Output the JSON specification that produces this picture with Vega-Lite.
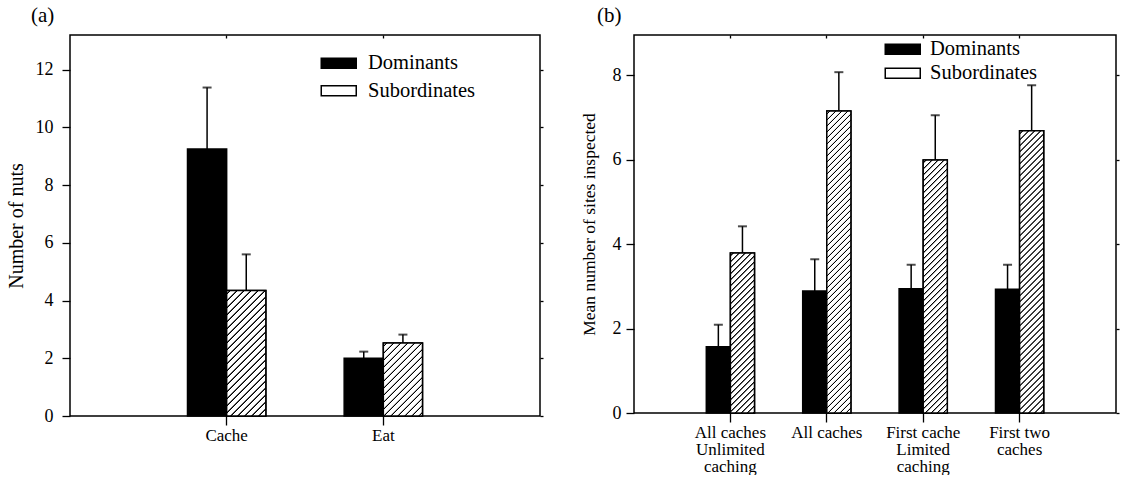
{
  "$schema": "https://vega.github.io/schema/vega-lite/v6.json",
  "padding": {"left": 5, "top": 4, "right": 5, "bottom": 0},
  "spacing": 34,
  "background": "white",
  "params": [
    {"name": "hatch", "value": [
      {"offset":0.0035,"color":"#fff"},{"offset":0.0045,"color":"#000"},{"offset":0.0057,"color":"#000"},{"offset":0.0067,"color":"#fff"},
      {"offset":0.0135,"color":"#fff"},{"offset":0.0145,"color":"#000"},{"offset":0.0157,"color":"#000"},{"offset":0.0167,"color":"#fff"},
      {"offset":0.0235,"color":"#fff"},{"offset":0.0245,"color":"#000"},{"offset":0.0257,"color":"#000"},{"offset":0.0267,"color":"#fff"},
      {"offset":0.0335,"color":"#fff"},{"offset":0.0345,"color":"#000"},{"offset":0.0357,"color":"#000"},{"offset":0.0367,"color":"#fff"},
      {"offset":0.0435,"color":"#fff"},{"offset":0.0445,"color":"#000"},{"offset":0.0457,"color":"#000"},{"offset":0.0467,"color":"#fff"},
      {"offset":0.0535,"color":"#fff"},{"offset":0.0545,"color":"#000"},{"offset":0.0557,"color":"#000"},{"offset":0.0567,"color":"#fff"},
      {"offset":0.0635,"color":"#fff"},{"offset":0.0645,"color":"#000"},{"offset":0.0657,"color":"#000"},{"offset":0.0667,"color":"#fff"},
      {"offset":0.0735,"color":"#fff"},{"offset":0.0745,"color":"#000"},{"offset":0.0757,"color":"#000"},{"offset":0.0767,"color":"#fff"},
      {"offset":0.0835,"color":"#fff"},{"offset":0.0845,"color":"#000"},{"offset":0.0857,"color":"#000"},{"offset":0.0867,"color":"#fff"},
      {"offset":0.0935,"color":"#fff"},{"offset":0.0945,"color":"#000"},{"offset":0.0957,"color":"#000"},{"offset":0.0967,"color":"#fff"},
      {"offset":0.1035,"color":"#fff"},{"offset":0.1045,"color":"#000"},{"offset":0.1057,"color":"#000"},{"offset":0.1067,"color":"#fff"},
      {"offset":0.1135,"color":"#fff"},{"offset":0.1145,"color":"#000"},{"offset":0.1157,"color":"#000"},{"offset":0.1167,"color":"#fff"},
      {"offset":0.1235,"color":"#fff"},{"offset":0.1245,"color":"#000"},{"offset":0.1257,"color":"#000"},{"offset":0.1267,"color":"#fff"},
      {"offset":0.1335,"color":"#fff"},{"offset":0.1345,"color":"#000"},{"offset":0.1357,"color":"#000"},{"offset":0.1367,"color":"#fff"},
      {"offset":0.1435,"color":"#fff"},{"offset":0.1445,"color":"#000"},{"offset":0.1457,"color":"#000"},{"offset":0.1467,"color":"#fff"},
      {"offset":0.1535,"color":"#fff"},{"offset":0.1545,"color":"#000"},{"offset":0.1557,"color":"#000"},{"offset":0.1567,"color":"#fff"},
      {"offset":0.1635,"color":"#fff"},{"offset":0.1645,"color":"#000"},{"offset":0.1657,"color":"#000"},{"offset":0.1667,"color":"#fff"},
      {"offset":0.1735,"color":"#fff"},{"offset":0.1745,"color":"#000"},{"offset":0.1757,"color":"#000"},{"offset":0.1767,"color":"#fff"},
      {"offset":0.1835,"color":"#fff"},{"offset":0.1845,"color":"#000"},{"offset":0.1857,"color":"#000"},{"offset":0.1867,"color":"#fff"},
      {"offset":0.1935,"color":"#fff"},{"offset":0.1945,"color":"#000"},{"offset":0.1957,"color":"#000"},{"offset":0.1967,"color":"#fff"},
      {"offset":0.2035,"color":"#fff"},{"offset":0.2045,"color":"#000"},{"offset":0.2057,"color":"#000"},{"offset":0.2067,"color":"#fff"},
      {"offset":0.2135,"color":"#fff"},{"offset":0.2145,"color":"#000"},{"offset":0.2157,"color":"#000"},{"offset":0.2167,"color":"#fff"},
      {"offset":0.2235,"color":"#fff"},{"offset":0.2245,"color":"#000"},{"offset":0.2257,"color":"#000"},{"offset":0.2267,"color":"#fff"},
      {"offset":0.2335,"color":"#fff"},{"offset":0.2345,"color":"#000"},{"offset":0.2357,"color":"#000"},{"offset":0.2367,"color":"#fff"},
      {"offset":0.2435,"color":"#fff"},{"offset":0.2445,"color":"#000"},{"offset":0.2457,"color":"#000"},{"offset":0.2467,"color":"#fff"},
      {"offset":0.2535,"color":"#fff"},{"offset":0.2545,"color":"#000"},{"offset":0.2557,"color":"#000"},{"offset":0.2567,"color":"#fff"},
      {"offset":0.2635,"color":"#fff"},{"offset":0.2645,"color":"#000"},{"offset":0.2657,"color":"#000"},{"offset":0.2667,"color":"#fff"},
      {"offset":0.2735,"color":"#fff"},{"offset":0.2745,"color":"#000"},{"offset":0.2757,"color":"#000"},{"offset":0.2767,"color":"#fff"},
      {"offset":0.2835,"color":"#fff"},{"offset":0.2845,"color":"#000"},{"offset":0.2857,"color":"#000"},{"offset":0.2867,"color":"#fff"},
      {"offset":0.2935,"color":"#fff"},{"offset":0.2945,"color":"#000"},{"offset":0.2957,"color":"#000"},{"offset":0.2967,"color":"#fff"},
      {"offset":0.3035,"color":"#fff"},{"offset":0.3045,"color":"#000"},{"offset":0.3057,"color":"#000"},{"offset":0.3067,"color":"#fff"},
      {"offset":0.3135,"color":"#fff"},{"offset":0.3145,"color":"#000"},{"offset":0.3157,"color":"#000"},{"offset":0.3167,"color":"#fff"},
      {"offset":0.3235,"color":"#fff"},{"offset":0.3245,"color":"#000"},{"offset":0.3257,"color":"#000"},{"offset":0.3267,"color":"#fff"},
      {"offset":0.3335,"color":"#fff"},{"offset":0.3345,"color":"#000"},{"offset":0.3357,"color":"#000"},{"offset":0.3367,"color":"#fff"},
      {"offset":0.3435,"color":"#fff"},{"offset":0.3445,"color":"#000"},{"offset":0.3457,"color":"#000"},{"offset":0.3467,"color":"#fff"},
      {"offset":0.3535,"color":"#fff"},{"offset":0.3545,"color":"#000"},{"offset":0.3557,"color":"#000"},{"offset":0.3567,"color":"#fff"},
      {"offset":0.3635,"color":"#fff"},{"offset":0.3645,"color":"#000"},{"offset":0.3657,"color":"#000"},{"offset":0.3667,"color":"#fff"},
      {"offset":0.3735,"color":"#fff"},{"offset":0.3745,"color":"#000"},{"offset":0.3757,"color":"#000"},{"offset":0.3767,"color":"#fff"},
      {"offset":0.3835,"color":"#fff"},{"offset":0.3845,"color":"#000"},{"offset":0.3857,"color":"#000"},{"offset":0.3867,"color":"#fff"},
      {"offset":0.3935,"color":"#fff"},{"offset":0.3945,"color":"#000"},{"offset":0.3957,"color":"#000"},{"offset":0.3967,"color":"#fff"},
      {"offset":0.4035,"color":"#fff"},{"offset":0.4045,"color":"#000"},{"offset":0.4057,"color":"#000"},{"offset":0.4067,"color":"#fff"},
      {"offset":0.4135,"color":"#fff"},{"offset":0.4145,"color":"#000"},{"offset":0.4157,"color":"#000"},{"offset":0.4167,"color":"#fff"},
      {"offset":0.4235,"color":"#fff"},{"offset":0.4245,"color":"#000"},{"offset":0.4257,"color":"#000"},{"offset":0.4267,"color":"#fff"},
      {"offset":0.4335,"color":"#fff"},{"offset":0.4345,"color":"#000"},{"offset":0.4357,"color":"#000"},{"offset":0.4367,"color":"#fff"},
      {"offset":0.4435,"color":"#fff"},{"offset":0.4445,"color":"#000"},{"offset":0.4457,"color":"#000"},{"offset":0.4467,"color":"#fff"},
      {"offset":0.4535,"color":"#fff"},{"offset":0.4545,"color":"#000"},{"offset":0.4557,"color":"#000"},{"offset":0.4567,"color":"#fff"},
      {"offset":0.4635,"color":"#fff"},{"offset":0.4645,"color":"#000"},{"offset":0.4657,"color":"#000"},{"offset":0.4667,"color":"#fff"},
      {"offset":0.4735,"color":"#fff"},{"offset":0.4745,"color":"#000"},{"offset":0.4757,"color":"#000"},{"offset":0.4767,"color":"#fff"},
      {"offset":0.4835,"color":"#fff"},{"offset":0.4845,"color":"#000"},{"offset":0.4857,"color":"#000"},{"offset":0.4867,"color":"#fff"},
      {"offset":0.4935,"color":"#fff"},{"offset":0.4945,"color":"#000"},{"offset":0.4957,"color":"#000"},{"offset":0.4967,"color":"#fff"},
      {"offset":0.5035,"color":"#fff"},{"offset":0.5045,"color":"#000"},{"offset":0.5057,"color":"#000"},{"offset":0.5067,"color":"#fff"},
      {"offset":0.5135,"color":"#fff"},{"offset":0.5145,"color":"#000"},{"offset":0.5157,"color":"#000"},{"offset":0.5167,"color":"#fff"},
      {"offset":0.5235,"color":"#fff"},{"offset":0.5245,"color":"#000"},{"offset":0.5257,"color":"#000"},{"offset":0.5267,"color":"#fff"},
      {"offset":0.5335,"color":"#fff"},{"offset":0.5345,"color":"#000"},{"offset":0.5357,"color":"#000"},{"offset":0.5367,"color":"#fff"},
      {"offset":0.5435,"color":"#fff"},{"offset":0.5445,"color":"#000"},{"offset":0.5457,"color":"#000"},{"offset":0.5467,"color":"#fff"}
    ]}
  ],
  "datasets": {
    "nuts": [
      {"category": "Cache", "series": "Dominants", "mean": 9.25, "upper": 11.38},
      {"category": "Cache", "series": "Subordinates", "mean": 4.35, "upper": 5.6},
      {"category": "Eat", "series": "Dominants", "mean": 2.0, "upper": 2.23},
      {"category": "Eat", "series": "Subordinates", "mean": 2.53, "upper": 2.82}
    ],
    "sites": [
      {"category": "All caches\nUnlimited\ncaching", "series": "Dominants", "mean": 1.57, "upper": 2.09},
      {"category": "All caches\nUnlimited\ncaching", "series": "Subordinates", "mean": 3.79, "upper": 4.42},
      {"category": "All caches", "series": "Dominants", "mean": 2.89, "upper": 3.64},
      {"category": "All caches", "series": "Subordinates", "mean": 7.15, "upper": 8.07},
      {"category": "First cache\nLimited\ncaching", "series": "Dominants", "mean": 2.94, "upper": 3.51},
      {"category": "First cache\nLimited\ncaching", "series": "Subordinates", "mean": 5.99, "upper": 7.05},
      {"category": "First two\ncaches", "series": "Dominants", "mean": 2.93, "upper": 3.51},
      {"category": "First two\ncaches", "series": "Subordinates", "mean": 6.68, "upper": 7.76}
    ]
  },
  "resolve": {"scale": {"fill": "independent", "xOffset": "independent"}, "legend": {"fill": "independent"}},
  "hconcat": [
    {
      "width": 470,
      "height": 381,
      "title": {"text": "(a)", "dx": -39, "offset": -9, "baseline": "alphabetic"},
      "data": {"name": "nuts"},
      "resolve": {"axis": {"x": "independent", "y": "independent"}},
      "layer": [
        {
          "mark": {"type": "bar", "stroke": "black", "strokeWidth": 1.5},
          "encoding": {
            "x": {"field": "category", "type": "nominal", "scale": {"domain": ["Cache", "Eat"], "paddingInner": 0.5, "paddingOuter": 0.75},
                  "axis": {"title": null, "orient": "bottom", "labelAngle": 0, "tickSize": 9, "labelPadding": 2, "bandPosition": 0.5}},
            "xOffset": {"field": "series", "type": "nominal", "scale": {"domain": ["Dominants", "Subordinates"], "paddingInner": 0, "paddingOuter": 0}},
            "y": {"field": "mean", "type": "quantitative", "scale": {"domain": [0, 13.2], "nice": false},
                  "axis": {"title": "Number of nuts", "orient": "left", "values": [0, 2, 4, 6, 8, 10, 12], "tickSize": 8, "labelPadding": 9, "labelFontSize": 18, "titleFontSize": 20, "titlePadding": 9}},
            "fill": {"field": "series", "type": "nominal", "scale": {"domain": ["Dominants", "Subordinates"], "range": ["black", "white"]},
                     "legend": {"title": null, "orient": "none", "legendX": 258.5, "legendY": 18, "symbolType": "M-3.5,-1H3.5V1H-3.5Z", "symbolSize": 100, "labelFont": "Liberation Serif", "labelFontSize": 20.5, "labelOffset": 19, "rowPadding": 6.5, "padding": 0, "labelLimit": 300,
                                "encode": {"symbols": {"update": {"fill": {"signal": "datum.value === 'Subordinates' ? {gradient: 'linear', x1: 0, y1: 0, x2: 21.13, y2: 6.04, stops: hatch} : 'black'"}, "stroke": {"value": "black"}, "strokeWidth": {"value": 1}, "opacity": {"value": 1}}}}}}
          }
        },
        {
          "transform": [{"filter": {"and": [{"field": "series", "equal": "Subordinates"}, {"field": "category", "equal": "Cache"}]}}],
          "mark": {"type": "bar", "stroke": "black", "strokeWidth": 1.5, "fill": {"expr": "{gradient: 'linear', x1: 0, y1: 0, x2: 1.5849, y2: 5.0808, stops: hatch}"}},
          "encoding": {
            "x": {"field": "category", "type": "nominal", "scale": {"domain": ["Cache", "Eat"]}, "axis": null},
            "xOffset": {"field": "series", "type": "nominal", "scale": {"domain": ["Dominants", "Subordinates"]}},
            "y": {"field": "mean", "type": "quantitative", "axis": null}
          }
        },
        {
          "transform": [{"filter": {"and": [{"field": "series", "equal": "Subordinates"}, {"field": "category", "equal": "Eat"}]}}],
          "mark": {"type": "bar", "stroke": "black", "strokeWidth": 1.5, "fill": {"expr": "{gradient: 'linear', x1: 0, y1: 0, x2: 3.9927, y2: 7.4443, stops: hatch}"}},
          "encoding": {
            "x": {"field": "category", "type": "nominal", "scale": {"domain": ["Cache", "Eat"]}, "axis": null},
            "xOffset": {"field": "series", "type": "nominal", "scale": {"domain": ["Dominants", "Subordinates"]}},
            "y": {"field": "mean", "type": "quantitative", "axis": null}
          }
        },
        {
          "mark": {"type": "rule", "color": "black", "strokeWidth": 1.5},
          "encoding": {
            "x": {"field": "category", "type": "nominal", "scale": {"domain": ["Cache", "Eat"]}, "axis": null},
            "xOffset": {"field": "series", "type": "nominal", "scale": {"domain": ["Dominants", "Subordinates"]}},
            "y": {"field": "upper", "type": "quantitative", "axis": null},
            "y2": {"field": "mean"}
          }
        },
        {
          "mark": {"type": "tick", "color": "black", "thickness": 2, "size": 9},
          "encoding": {
            "x": {"field": "category", "type": "nominal", "scale": {"domain": ["Cache", "Eat"]},
                  "axis": {"orient": "top", "title": null, "labels": false, "tickSize": -3, "bandPosition": 0.5, "minExtent": 0, "maxExtent": 0}},
            "xOffset": {"field": "series", "type": "nominal", "scale": {"domain": ["Dominants", "Subordinates"]}},
            "y": {"field": "upper", "type": "quantitative",
                  "axis": {"orient": "right", "title": null, "labels": false, "tickSize": 3, "values": [0, 2, 4, 6, 8, 10, 12], "minExtent": 0, "maxExtent": 0}}
          }
        }
      ]
    },
    {
      "width": 482,
      "height": 378,
      "title": {"text": "(b)", "dx": -37, "offset": -9, "baseline": "alphabetic"},
      "data": {"name": "sites"},
      "resolve": {"axis": {"x": "independent", "y": "independent"}},
      "layer": [
        {
          "mark": {"type": "bar", "stroke": "black", "strokeWidth": 1.5},
          "encoding": {
            "x": {"field": "category", "type": "nominal", "scale": {"domain": ["All caches\nUnlimited\ncaching", "All caches", "First cache\nLimited\ncaching", "First two\ncaches"], "paddingInner": 0.5, "paddingOuter": 0.75},
                  "axis": {"title": null, "orient": "bottom", "labelAngle": 0, "tickSize": 9, "labelPadding": 2, "bandPosition": 0.5, "labelExpr": "split(datum.label, '\\n')", "labelLineHeight": 17}},
            "xOffset": {"field": "series", "type": "nominal", "scale": {"domain": ["Dominants", "Subordinates"], "paddingInner": 0, "paddingOuter": 0}},
            "y": {"field": "mean", "type": "quantitative", "scale": {"domain": [0, 8.95], "nice": false},
                  "axis": {"title": "Mean number of sites inspected", "orient": "left", "values": [0, 2, 4, 6, 8], "tickSize": 8, "labelPadding": 5, "labelFontSize": 18, "titlePadding": 14}},
            "fill": {"field": "series", "type": "nominal", "scale": {"domain": ["Dominants", "Subordinates"], "range": ["black", "white"]},
                     "legend": {"title": null, "orient": "none", "legendX": 258.5, "legendY": 4, "symbolType": "M-3.5,-1H3.5V1H-3.5Z", "symbolSize": 100, "labelFont": "Liberation Serif", "labelFontSize": 20.5, "labelOffset": 17, "rowPadding": 3, "padding": 0, "labelLimit": 300,
                                "encode": {"symbols": {"update": {"fill": {"signal": "datum.value === 'Subordinates' ? {gradient: 'linear', x1: 0, y1: 0, x2: 21.13, y2: 6.04, stops: hatch} : 'black'"}, "stroke": {"value": "black"}, "strokeWidth": {"value": 1}, "opacity": {"value": 1}}}}}}
          }
        },
        {
          "transform": [{"filter": {"and": [{"field": "series", "equal": "Subordinates"}, {"field": "category", "equal": "All caches\nUnlimited\ncaching"}]}}],
          "mark": {"type": "bar", "stroke": "black", "strokeWidth": 1.5, "fill": {"expr": "{gradient: 'linear', x1: 0, y1: 0, x2: 0.55184, y2: 3.6653, stops: hatch}"}},
          "encoding": {
            "x": {"field": "category", "type": "nominal", "scale": {"domain": ["All caches\nUnlimited\ncaching", "All caches", "First cache\nLimited\ncaching", "First two\ncaches"]}, "axis": null},
            "xOffset": {"field": "series", "type": "nominal", "scale": {"domain": ["Dominants", "Subordinates"]}},
            "y": {"field": "mean", "type": "quantitative", "axis": null}
          }
        },
        {
          "transform": [{"filter": {"and": [{"field": "series", "equal": "Subordinates"}, {"field": "category", "equal": "All caches"}]}}],
          "mark": {"type": "bar", "stroke": "black", "strokeWidth": 1.5, "fill": {"expr": "{gradient: 'linear', x1: 0, y1: 0, x2: 0.15756, y2: 1.97431, stops: hatch}"}},
          "encoding": {
            "x": {"field": "category", "type": "nominal", "scale": {"domain": ["All caches\nUnlimited\ncaching", "All caches", "First cache\nLimited\ncaching", "First two\ncaches"]}, "axis": null},
            "xOffset": {"field": "series", "type": "nominal", "scale": {"domain": ["Dominants", "Subordinates"]}},
            "y": {"field": "mean", "type": "quantitative", "axis": null}
          }
        },
        {
          "transform": [{"filter": {"and": [{"field": "series", "equal": "Subordinates"}, {"field": "category", "equal": "First cache\nLimited\ncaching"}]}}],
          "mark": {"type": "bar", "stroke": "black", "strokeWidth": 1.5, "fill": {"expr": "{gradient: 'linear', x1: 0, y1: 0, x2: 0.22389, y2: 2.3503, stops: hatch}"}},
          "encoding": {
            "x": {"field": "category", "type": "nominal", "scale": {"domain": ["All caches\nUnlimited\ncaching", "All caches", "First cache\nLimited\ncaching", "First two\ncaches"]}, "axis": null},
            "xOffset": {"field": "series", "type": "nominal", "scale": {"domain": ["Dominants", "Subordinates"]}},
            "y": {"field": "mean", "type": "quantitative", "axis": null}
          }
        },
        {
          "transform": [{"filter": {"and": [{"field": "series", "equal": "Subordinates"}, {"field": "category", "equal": "First two\ncaches"}]}}],
          "mark": {"type": "bar", "stroke": "black", "strokeWidth": 1.5, "fill": {"expr": "{gradient: 'linear', x1: 0, y1: 0, x2: 0.18035, y2: 2.11127, stops: hatch}"}},
          "encoding": {
            "x": {"field": "category", "type": "nominal", "scale": {"domain": ["All caches\nUnlimited\ncaching", "All caches", "First cache\nLimited\ncaching", "First two\ncaches"]}, "axis": null},
            "xOffset": {"field": "series", "type": "nominal", "scale": {"domain": ["Dominants", "Subordinates"]}},
            "y": {"field": "mean", "type": "quantitative", "axis": null}
          }
        },
        {
          "mark": {"type": "rule", "color": "black", "strokeWidth": 1.5},
          "encoding": {
            "x": {"field": "category", "type": "nominal", "scale": {"domain": ["All caches\nUnlimited\ncaching", "All caches", "First cache\nLimited\ncaching", "First two\ncaches"]}, "axis": null},
            "xOffset": {"field": "series", "type": "nominal", "scale": {"domain": ["Dominants", "Subordinates"]}},
            "y": {"field": "upper", "type": "quantitative", "axis": null},
            "y2": {"field": "mean"}
          }
        },
        {
          "mark": {"type": "tick", "color": "black", "thickness": 2, "size": 9},
          "encoding": {
            "x": {"field": "category", "type": "nominal", "scale": {"domain": ["All caches\nUnlimited\ncaching", "All caches", "First cache\nLimited\ncaching", "First two\ncaches"]},
                  "axis": {"orient": "top", "title": null, "labels": false, "tickSize": -3, "bandPosition": 0.5, "minExtent": 0, "maxExtent": 0}},
            "xOffset": {"field": "series", "type": "nominal", "scale": {"domain": ["Dominants", "Subordinates"]}},
            "y": {"field": "upper", "type": "quantitative",
                  "axis": {"orient": "right", "title": null, "labels": false, "tickSize": 3, "values": [0, 2, 4, 6, 8], "minExtent": 0, "maxExtent": 0}}
          }
        }
      ]
    }
  ],
  "config": {
    "font": "Liberation Serif",
    "view": {"stroke": "black", "strokeWidth": 1.5},
    "axis": {"grid": false, "domain": false, "labelFont": "Liberation Serif", "titleFont": "Liberation Serif", "labelColor": "black", "titleColor": "black", "tickColor": "black", "tickWidth": 1.3, "titleFontWeight": "normal", "labelFontSize": 17, "titleFontSize": 17.5},
    "legend": {"labelFont": "Liberation Serif", "labelColor": "black"},
    "title": {"font": "Liberation Serif", "fontSize": 21, "fontWeight": "normal", "color": "black", "anchor": "start", "frame": "group"}
  }
}
